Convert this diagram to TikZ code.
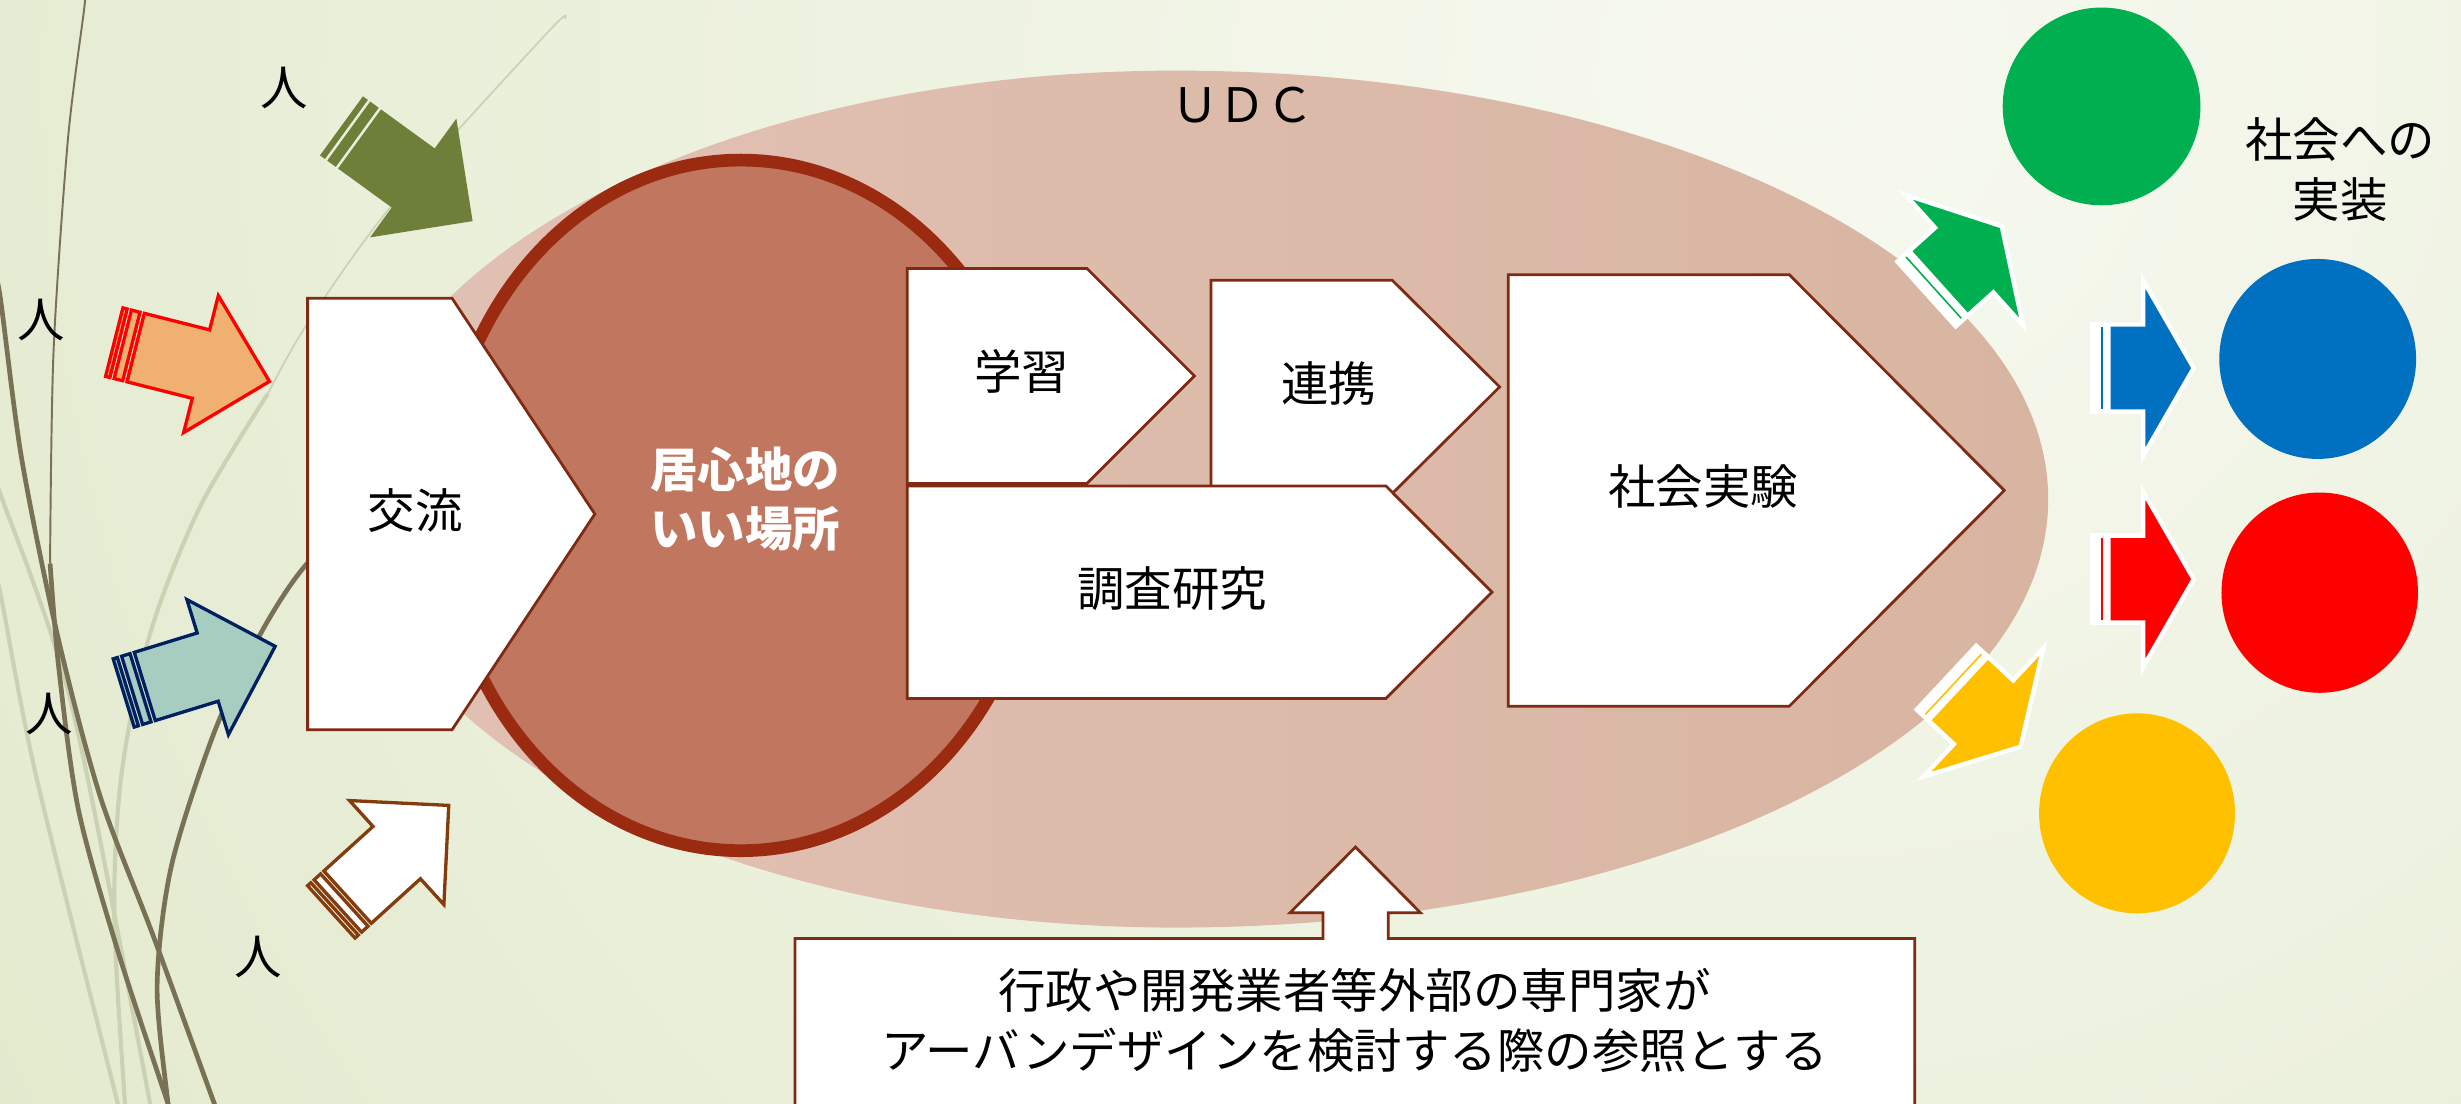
\documentclass[tikz,border=0pt]{standalone}
\usepackage{fontspec}
\usepackage{tikz}
\newfontfamily\jpfont{Noto Sans CJK JP}

\definecolor{bgin}{HTML}{F7F9F0}
\definecolor{bgout}{HTML}{DCE5C2}
\definecolor{wisp}{HTML}{787156}
\definecolor{wisplight}{HTML}{CBD1B3}
\definecolor{udcl}{HTML}{E2C1B5}
\definecolor{udcr}{HTML}{D8B5A1}
\definecolor{placefill}{HTML}{C0765F}
\definecolor{placerim}{HTML}{9B2B10}
\definecolor{boxline}{HTML}{7F2A12}
\definecolor{olivearr}{HTML}{6E7F3A}
\definecolor{orangearr}{HTML}{EFB071}
\definecolor{tealarr}{HTML}{A6CDC0}
\definecolor{navyline}{HTML}{002060}
\definecolor{brownline}{HTML}{843C0C}
\definecolor{impgreen}{HTML}{00B050}
\definecolor{impblue}{HTML}{0070C0}
\definecolor{impred}{HTML}{FF0000}
\definecolor{impyellow}{HTML}{FFC000}

\tikzset{
  stepbox/.style={fill=white, draw=boxline, line width=0.5pt},
  txt/.style={font=\jpfont\fontsize{8.6}{10.8}\selectfont, align=center, inner sep=0pt},
  wispline/.style={draw=wisp, line width=0.85pt},
  wispfaint/.style={draw=wisplight, line width=0.75pt},
  inarrow/.style={line width=0.6pt},
  outarrow/.style={draw=white, line width=0.8pt},
}

% striped block arrow: tail centre, angle, style, length, head width, body width
\newcommand{\stripedarrow}[6]{%
  \begin{scope}[shift={#1}, rotate=#2]
    \pgfmathsetmacro\arrss{min(#4,#5)}
    \pgfmathsetmacro\arrhb{#6/2}
    \pgfmathsetmacro\arrhh{#5/2}
    \pgfmathsetmacro\arrhx{#4-\arrss/2}
    \path[#3] (0,-\arrhb) rectangle (\arrss/32,\arrhb);
    \path[#3] (\arrss/16,-\arrhb) rectangle (\arrss/8,\arrhb);
    \path[#3] (5*\arrss/32,-\arrhb) -- (\arrhx,-\arrhb) -- (\arrhx,-\arrhh) -- (#4,0)
      -- (\arrhx,\arrhh) -- (\arrhx,\arrhb) -- (5*\arrss/32,\arrhb) -- cycle;
  \end{scope}}

\begin{document}
\begin{tikzpicture}[x=0.01cm, y=-0.01cm]
\useasboundingbox (0,0) rectangle (1568,703);
\clip (0,0) rectangle (1568,703);

% background
\shade[inner color=bgin, outer color=bgout] (1150,50) circle [radius=1800];

% wisps on the left
\draw[wispfaint] plot[smooth] coordinates {(-5,300) (0,314) (45.5,448.6) (95.6,703) (98,720)};
\draw[wispfaint] plot[smooth] coordinates {(-5,365) (0,376.8) (22.8,493.5) (75,703) (79,720)};
\draw[wispfaint, line width=0.3pt] plot[smooth] coordinates {(360,12) (349.3,20.2) (250.3,130) (195.7,206.4) (170.6,251)};
\draw[wispfaint] plot[smooth] coordinates {(170.6,251) (127.4,323) (95.6,403.8) (77.4,493.5) (72.8,583.2) (79.6,703) (81,720)};
\draw[wispline] plot[smooth] coordinates {(-5,170) (0,188.4) (13.7,291.6) (36.4,403.8) (63.7,507) (97.8,596.7) (136.5,703) (143,720)};
\draw[wispline, line width=0.35pt] plot[smooth] coordinates {(54,0) (53.5,6.7) (43.2,89.7) (34.1,224.3) (31.9,359)};
\draw[wispline] plot[smooth] coordinates {(31.9,359) (37.5,426) (50,516) (75,605.6) (107,703) (113,720)};
\draw[wispline] plot[smooth] coordinates {(240,320) (195.7,359) (166,403.8) (136.5,466.6) (109.2,551.8) (100.1,628) (107,703) (109,720)};

% UDC
\shade[left color=udcl, right color=udcr] (749,591)
  arc[start angle=90, end angle=270, x radius=524, y radius=273]
  arc[start angle=-90, end angle=90, x radius=556, y radius=273] -- cycle;
\node[txt] (udc) at (791.5,67) {ＵＤＣ};

% place in the middle
\draw[fill=placefill, draw=placerim, line width=2.3pt] (472,322) ellipse [x radius=190, y radius=220];

% steps
\draw[stepbox] (196,190) -- (288,190) -- (379,327.5) -- (288,465) -- (196,465) -- cycle;
\draw[stepbox] (578,171) -- (692.5,171) -- (761,239.5) -- (692.5,308) -- (578,308) -- cycle;
\draw[stepbox] (771.5,178.5) -- (887,178.5) -- (955.5,246.5) -- (887,314.5) -- (771.5,314.5) -- cycle;
\draw[stepbox] (578,309.6) -- (883,309.6) -- (950.6,377.3) -- (883,445) -- (578,445) -- cycle;
\draw[stepbox] (961,175) -- (1140,175) -- (1277,312.5) -- (1140,450) -- (961,450) -- cycle;

\node[txt] (koryu) at (264.6,325.4) {交流};
\node[txt, text=white, font=\jpfont\bfseries\fontsize{8.6}{10.6}\selectfont] (ibasho) at (474.7,318) {居心地の\\いい場所};
\node[txt] (gakushu) at (651,236.8) {学習};
\node[txt] (renkei) at (846.6,244.2) {連携};
\node[txt] (chosa) at (747,374.8) {調査研究};
\node[txt] (jikken) at (1085.2,310) {社会実験};

% people coming in
\stripedarrow{(218,80.5)}{-36}{fill=olivearr, draw=olivearr, line width=0.3pt}{102}{91}{45.5}
\stripedarrow{(72.8,218)}{-14.2}{inarrow, fill=orangearr, draw=red}{102}{90}{45}
\stripedarrow{(78.8,441.5)}{17.1}{inarrow, fill=tealarr, draw=navyline}{101}{90}{45.5}
\stripedarrow{(211.1,581)}{42.2}{inarrow, fill=white, draw=brownline}{101}{89.5}{45}

\node[txt] (hito1) at (181.4,55.8) {人};
\node[txt] (hito2) at (26.5,203.7) {人};
\node[txt] (hito3) at (31.5,455.2) {人};
\node[txt] (hito4) at (164.5,610) {人};

% going out
\stripedarrow{(1227.5,187.3)}{42}{outarrow, fill=impgreen}{64.5}{112}{55.5}
\stripedarrow{(1333.2,234.5)}{0}{outarrow, fill=impblue}{64.5}{112}{55.5}
\stripedarrow{(1333.2,369)}{0}{outarrow, fill=impred}{64.5}{112}{55.5}
\stripedarrow{(1240.2,431.8)}{-43}{outarrow, fill=impyellow}{64.5}{112}{55.5}

\fill[impgreen] (1339,67.8) ellipse [x radius=63, y radius=63];
\fill[impblue] (1476.7,228.7) ellipse [x radius=62.7, y radius=63.7];
\fill[impred] (1478,377.6) ellipse [x radius=62.6, y radius=63.8];
\fill[impyellow] (1361.6,518.2) ellipse [x radius=62.4, y radius=63.7];

\node[txt] (jisso) at (1491,108) {社会への\\実装};

% reference box below
\draw[stepbox] (506.5,720) -- (506.5,598) -- (843,598) -- (843,581.5) -- (822,581.5)
  -- (863.6,539.7) -- (905,581.5) -- (884.5,581.5) -- (884.5,598) -- (1220,598) -- (1220,720) -- cycle;
\node[txt] (sansho) at (863,650) {行政や開発業者等外部の専門家が\\アーバンデザインを検討する際の参照とする};
\end{tikzpicture}
\end{document}
